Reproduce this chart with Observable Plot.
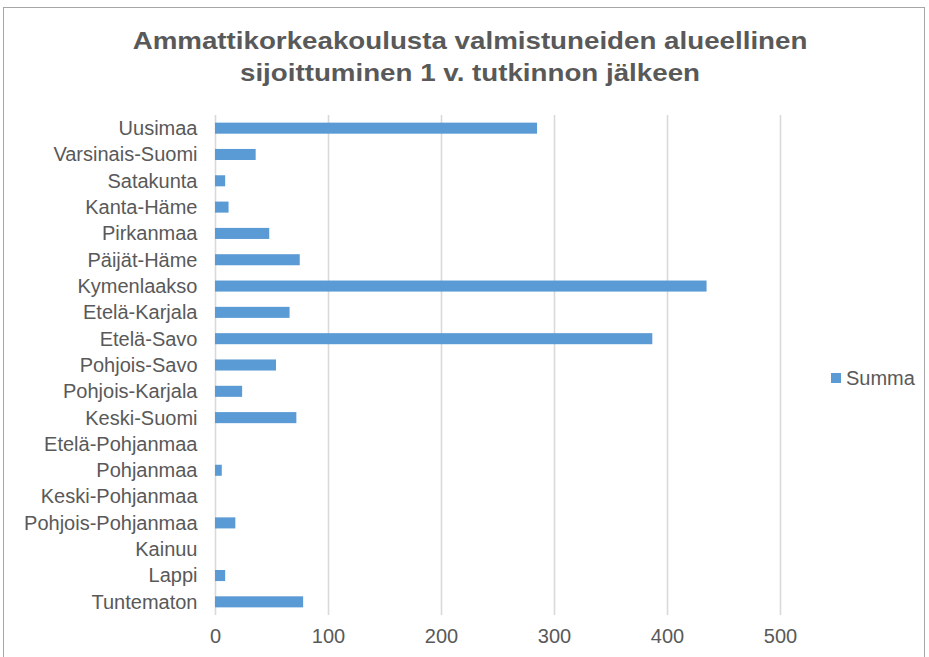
<!DOCTYPE html>
<html>
<head>
<meta charset="utf-8">
<script src="https://cdn.jsdelivr.net/npm/d3@7"></script>
<script src="https://cdn.jsdelivr.net/npm/@observablehq/plot@0.6"></script>
<style>
  html, body { margin: 0; padding: 0; background: #fff; }
  #wrap { position: relative; width: 929px; height: 657px; overflow: hidden; font-family: "Liberation Sans", Arial, sans-serif; }
  #frame { position: absolute; left: 3px; top: 7px; width: 922px; height: 700px; border: 1px solid #a6a6a6; box-sizing: border-box; }
  #title { position: absolute; left: 0; top: 25px; width: 940px; text-align: center; font-size: 24px; font-weight: bold; color: #595959; line-height: 32px; transform: scaleX(1.155); transform-origin: 470px 0; }
  #chart { position: absolute; left: 0; top: 105px; }
  #legend { position: absolute; left: 831px; top: 366px; font-size: 20px; line-height: 24px; color: #595959; display: flex; align-items: center; }
  #legend span.sw { display: inline-block; width: 10px; height: 10px; background: #5b9bd5; margin-right: 5px; }
</style>
</head>
<body>
<div id="wrap">
  <div id="frame"></div>
  <div id="title">Ammattikorkeakoulusta valmistuneiden alueellinen<br>sijoittuminen 1 v. tutkinnon jälkeen</div>
  <div id="chart"></div>
  <div id="legend"><span class="sw"></span><span id="legendLabel"></span></div>
</div>
<script>
const categories = ["Uusimaa", "Varsinais-Suomi", "Satakunta", "Kanta-Häme", "Pirkanmaa", "Päijät-Häme", "Kymenlaakso", "Etelä-Karjala", "Etelä-Savo", "Pohjois-Savo", "Pohjois-Karjala", "Keski-Suomi", "Etelä-Pohjanmaa", "Pohjanmaa", "Keski-Pohjanmaa", "Pohjois-Pohjanmaa", "Kainuu", "Lappi", "Tuntematon"];
const values = [285, 36, 9, 12, 48, 75, 435, 66, 387, 54, 24, 72, 0, 6, 0, 18, 0, 9, 78];
const xTicks = [0, 100, 200, 300, 400, 500];
const seriesName = "Summa";

const data = categories.map((c, i) => ({region: c, value: values[i]}));

const chart = Plot.plot({
  width: 929,
  height: 552,
  marginTop: 10,
  marginBottom: 42,
  marginLeft: 215,
  marginRight: 149,
  style: {fontFamily: "'Liberation Sans', Arial, sans-serif", fontSize: "20px", color: "#595959", background: "transparent", overflow: "visible"},
  x: {domain: [0, 500], ticks: xTicks, label: null, tickSize: 0, tickPadding: 13},
  y: {domain: categories, label: null, tickSize: 0, tickPadding: 18, paddingInner: 0.58, paddingOuter: 0.29, round: false},
  marks: [
    Plot.ruleX(xTicks, {stroke: "#d9d9d9", strokeWidth: 1.6}),
    Plot.barX(data, {x: "value", y: "region", fill: "#5b9bd5"})
  ]
});
document.getElementById("chart").appendChild(chart);
document.getElementById("legendLabel").textContent = seriesName;
</script>
</body>
</html>
